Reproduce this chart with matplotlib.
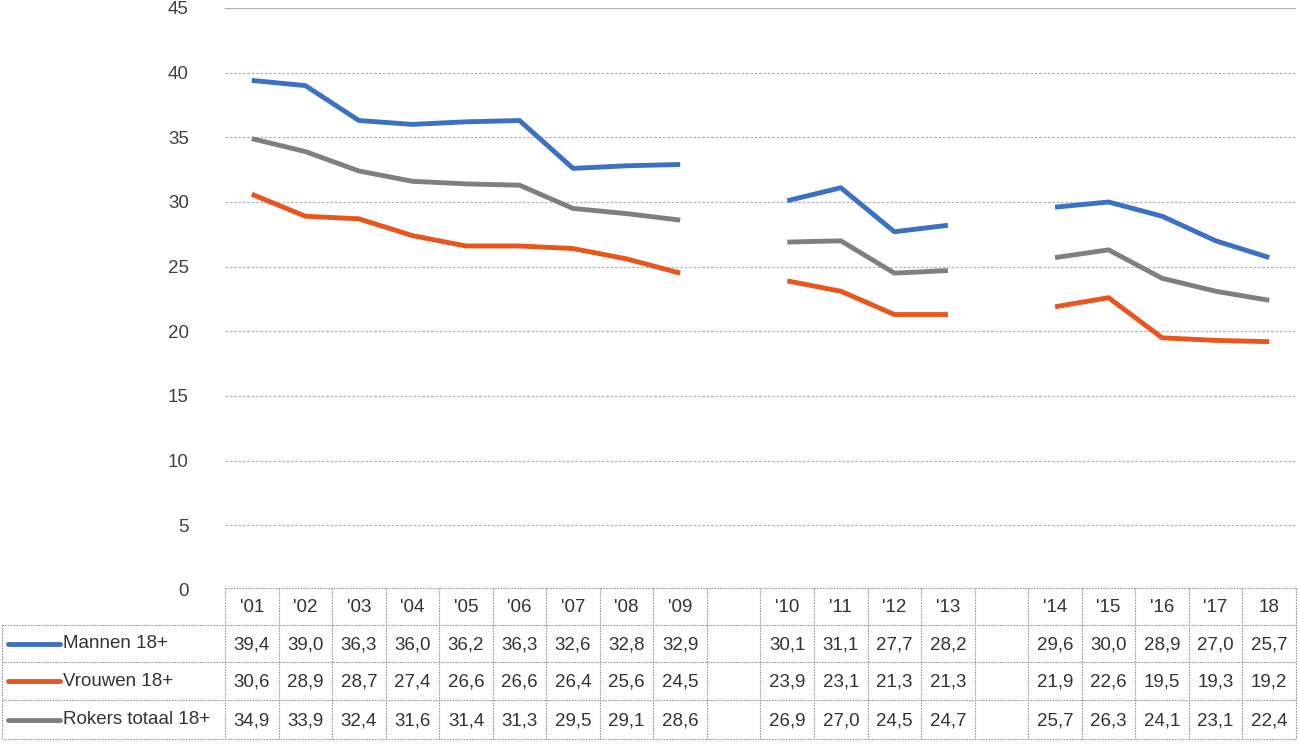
import numpy as np
import matplotlib.pyplot as plt
from matplotlib.lines import Line2D

# columns incl. the two empty spacer columns
years = ["'01", "'02", "'03", "'04", "'05", "'06", "'07", "'08", "'09", "",
         "'10", "'11", "'12", "'13", "",
         "'14", "'15", "'16", "'17", "18"]
N = None
mannen = [39.4, 39.0, 36.3, 36.0, 36.2, 36.3, 32.6, 32.8, 32.9, N,
          30.1, 31.1, 27.7, 28.2, N,
          29.6, 30.0, 28.9, 27.0, 25.7]
vrouwen = [30.6, 28.9, 28.7, 27.4, 26.6, 26.6, 26.4, 25.6, 24.5, N,
           23.9, 23.1, 21.3, 21.3, N,
           21.9, 22.6, 19.5, 19.3, 19.2]
totaal = [34.9, 33.9, 32.4, 31.6, 31.4, 31.3, 29.5, 29.1, 28.6, N,
          26.9, 27.0, 24.5, 24.7, N,
          25.7, 26.3, 24.1, 23.1, 22.4]
series = [("Mannen 18+", mannen, "#3b70c2"),
          ("Vrouwen 18+", vrouwen, "#e9561d"),
          ("Rokers totaal 18+", totaal, "#7f7f7f")]

plt.rcParams['font.family'] = ['Liberation Sans', 'DejaVu Sans']
W, H = 1299, 744
fig = plt.figure(figsize=(W / 100, H / 100), dpi=100)

x0, x1, ytop, ybot = 225, 1296, 8, 590
ax = fig.add_axes([x0 / W, 1 - ybot / H, (x1 - x0) / W, (ybot - ytop) / H])
n = len(years)
x = np.arange(n)
for name, vals, col in series:
    v = np.array([np.nan if a is None else a for a in vals], dtype=float)
    ax.plot(x, v, color=col, lw=3.5, solid_capstyle='butt', solid_joinstyle='round')
ax.set_xlim(-0.5, n - 0.5)
ax.set_ylim(0, 45)
ax.set_yticks(range(0, 46, 5))
ax.set_xticks([])
ax.tick_params(axis='y', length=0, pad=26, labelsize=13.5, labelcolor='#404040')
for s in ax.spines.values():
    s.set_visible(False)
for t in range(5, 46, 5):
    ax.axhline(t, color='#b0b0b0', lw=0.9, ls=(0, (2, 1.5)) if t < 45 else '-', zorder=0)

# data table below, drawn in pixel coordinates
tb = fig.add_axes([0, 0, 1, 1])
tb.set_xlim(0, W)
tb.set_ylim(H, 0)
tb.axis('off')
rows_y = [588, 625, 662, 700, 739]
colw = (x1 - x0) / n
gridkw = dict(color='#9a9a9a', lw=0.8, ls=(0, (1.5, 1)))
# horizontal lines
tb.plot([x0, x1], [rows_y[0], rows_y[0]], **gridkw)
for yy in rows_y[1:]:
    tb.plot([2, x1], [yy, yy], **gridkw)
# vertical lines
for i in range(n + 1):
    xx = x0 + i * colw
    tb.plot([xx, xx], [rows_y[0], rows_y[-1]], **gridkw)
tb.plot([2, 2], [rows_y[1], rows_y[-1]], **gridkw)

fs = 13.5
for i, lab in enumerate(years):
    tb.text(x0 + (i + 0.5) * colw, (rows_y[0] + rows_y[1]) / 2 + 1, lab,
            ha='center', va='center', fontsize=fs, color='#333333')
for r, (name, vals, col) in enumerate(series):
    yc = (rows_y[r + 1] + rows_y[r + 2]) / 2
    tb.add_line(Line2D([8, 60], [yc, yc], color=col, lw=3.5, solid_capstyle='round'))
    tb.text(63, yc, name, ha='left', va='center', fontsize=fs, color='#333333')
    for i, v in enumerate(vals):
        if v is None:
            continue
        tb.text(x0 + (i + 0.5) * colw, yc + 1, f"{v:.1f}".replace('.', ','),
                ha='center', va='center', fontsize=fs, color='#333333')

fig.savefig('out.png', dpi=100)
